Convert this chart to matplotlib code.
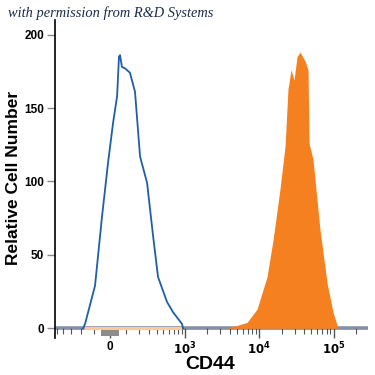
import numpy as np
import matplotlib
matplotlib.use("Agg")
import matplotlib.pyplot as plt

plt.rcParams["font.family"] = ["Liberation Sans", "DejaVu Sans"]

# ---- data (CD44 fluorescence intensity vs. relative cell count) ----
isotype_x = [-187, -170, -96, -50, -12, 19, 44, 56, 63, 75, 96, 131, 170,
             213, 282, 351, 417, 563, 685, 912, 942]
isotype_y = [0, 3, 29, 76, 113, 140, 158, 185, 186, 178, 177, 174, 161,
             117, 99, 63, 35, 18, 11, 3, 0]

cd44_x = [3700, 6860, 9340, 12700, 15300, 19000, 22200, 24300, 26700, 29300,
          32100, 35200, 41100, 45100, 46500, 52600, 65300, 81100, 97500, 114000]
cd44_y = [0, 4, 13, 35, 60, 95, 124, 163, 176, 169,
          185, 188, 182, 176, 126, 115, 67, 31, 11, 0]

gate_x = [-56, 56]
gate_y = [-5.4, -1.4]

xtick_vals = [0, 1e3, 1e4, 1e5]
xtick_labels = ["0", r"$\mathbf{10^3}$", r"$\mathbf{10^4}$", r"$\mathbf{10^5}$"]
xminor_vals = [-500, -400, -300, -200, -100, 100, 200, 300, 400, 500, 600, 700, 800, 900,
               2000, 3000, 4000, 5000, 6000, 7000, 8000, 9000,
               20000, 30000, 40000, 50000, 60000, 70000, 80000, 90000, 200000]
ytick_vals = [0, 50, 100, 150, 200]

W = 200.0
def fwd(x):
    return np.arcsinh(np.asarray(x, dtype=float) / W)
def inv(u):
    return W * np.sinh(np.asarray(u, dtype=float))

fig = plt.figure(figsize=(3.75, 3.75), dpi=100)
ax = fig.add_axes([0.1467, 0.099, 0.8346, 0.848])
ax.set_xscale("function", functions=(fwd, inv))
ax.set_xlim(-528, 287000)
ax.set_ylim(-6.5, 210)

# baseline
ax.plot([-528, 287000], [0, 0], color="#8592a6", lw=2.6, zorder=1, solid_capstyle="butt")
ax.plot([-180, 900], [0, 0], color="#f7c9a3", lw=2.2, zorder=2, solid_capstyle="butt")

ax.fill_between(cd44_x, cd44_y, 0, color="#f5801f", lw=0, zorder=3)
ax.plot(isotype_x, isotype_y, color="#1f5ea8", lw=1.3, zorder=4)
ax.fill_between(gate_x, gate_y[0], gate_y[1], color="#8c8c8c", lw=0, zorder=2)

for s in ["top", "right"]:
    ax.spines[s].set_visible(False)
ax.spines["bottom"].set_position(("data", 0))
ax.spines["bottom"].set_visible(False)
ax.axhline(0, color="#333333", lw=1.0, zorder=0)
ax.spines["left"].set_linewidth(1.2)

ax.set_xticks(xtick_vals)
ax.set_xticklabels(xtick_labels)
ax.set_xticks(xminor_vals, minor=True)
ax.tick_params(axis="x", which="major", length=7, width=1.0, color="#555555",
               labelsize=8.5, pad=2)
ax.tick_params(axis="x", which="minor", length=4, width=0.8, color="#555555")
for lab in ax.get_xticklabels():
    lab.set_fontweight("bold")

ax.set_yticks(ytick_vals)
ax.set_yticklabels([str(v) for v in ytick_vals])
ax.tick_params(axis="y", length=6, width=1.0, color="#888888", labelsize=8.5, pad=2)
for lab in ax.get_yticklabels():
    lab.set_fontweight("bold")

ax.set_xlabel("CD44", fontsize=14, fontweight="bold")
ax.xaxis.set_label_coords(0.495, -0.058)
ax.set_ylabel("Relative Cell Number", fontsize=12.5, fontweight="bold")
ax.yaxis.set_label_coords(-0.108, 0.503)

fig.text(0.022, 0.955, "with permission from R&D Systems", fontsize=10.4,
         family="Liberation Serif", style="italic", color="#1a2a4a")

fig.savefig("out.png", dpi=100)
